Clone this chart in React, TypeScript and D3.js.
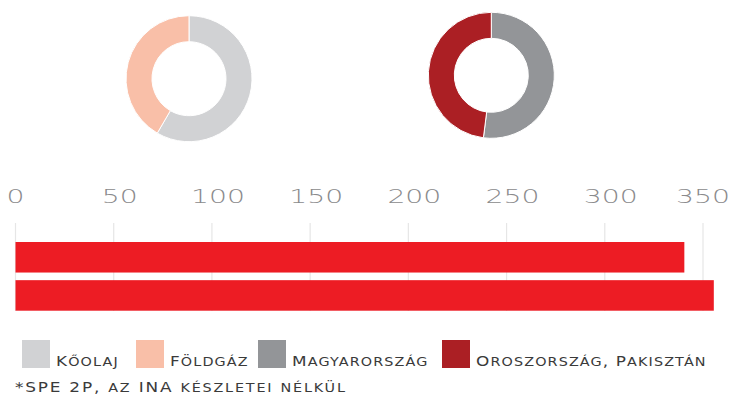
import React from "react";
import * as d3 from "d3";

// ---- data ----
const oilGasLabels = ["Kőolaj", "Földgáz"];
const oilGasValues = [58.4, 41.6];
const regionLabels = ["Magyarország", "Oroszország, Pakisztán"];
const regionValues = [52, 48];
const barCategories = ["A", "B"];
const barValues = [340.5, 355.5];
const tickValues = [0, 50, 100, 150, 200, 250, 300, 350];
const legendLabels = ["Kőolaj", "Földgáz", "Magyarország", "Oroszország, Pakisztán"];
const footnote = "*SPE 2P, az INA készletei nélkül";

// ---- styles / layout ----
const W = 748;
const H = 405;
const colorOil = "#d1d2d4";
const colorGas = "#f9bfa8";
const colorHu = "#939598";
const colorRu = "#ab1f24";
const barColor = "#ed1c24";
const legendColors = [colorOil, colorGas, colorHu, colorRu];
const legendSquareX = [22, 136, 258, 442];
const legendTextGap = 34;
const capSize = 13.5;
const smallSize = 11.5;
const textStretch = 1.25;

function SmallCaps({ text }: { text: string }) {
  const runs: { s: string; lower: boolean }[] = [];
  for (const ch of text) {
    const lower = ch !== ch.toUpperCase() && ch === ch.toLowerCase();
    const last = runs[runs.length - 1];
    if (last && last.lower === lower) last.s += ch;
    else runs.push({ s: ch, lower });
  }
  return (
    <>
      {runs.map((r, i) => (
        <tspan key={i} fontSize={r.lower ? smallSize : capSize} style={r.lower ? { textTransform: "uppercase" } : undefined}>
          {r.s}
        </tspan>
      ))}
    </>
  );
}

function Donut({ cx, cy, values, colors }: { cx: number; cy: number; values: number[]; colors: string[] }) {
  const pie = d3.pie<number>().sort(null).value((d) => d);
  const arc = d3.arc<d3.PieArcDatum<number>>().innerRadius(37).outerRadius(63);
  const arcs = pie(values);
  return (
    <g transform={`translate(${cx},${cy})`}>
      {arcs.map((a, i) => (
        <path key={i} d={arc(a) || ""} fill={colors[i]} stroke="#fff" strokeWidth={1} />
      ))}
    </g>
  );
}

export default function App() {
  const x = d3.scaleLinear().domain([0, 350]).range([15.5, 703]);
  const y = d3.scaleBand<string>().domain(barCategories).range([242, 310.7]).paddingInner(0.2).paddingOuter(0);

  return (
    <svg width={W} height={H} style={{ position: "absolute", left: 0, top: 0, background: "#fff" }}>
      <Donut cx={189} cy={78.7} values={oilGasValues} colors={[colorOil, colorGas]} />
      <Donut cx={491.3} cy={75.3} values={regionValues} colors={[colorHu, colorRu]} />

      {/* gridlines */}
      {tickValues.map((t) => (
        <line key={"g" + t} x1={x(t)} x2={x(t)} y1={223} y2={311} stroke="#e6e6e6" strokeWidth={1.2} />
      ))}
      {/* tick labels */}
      {tickValues.map((t, i) => (
        <text
          key={"t" + t}
          transform={`translate(${x(t) + (i === 0 || i === tickValues.length - 1 ? 0 : 6)},202.5) scale(1.45,1)`}
          textAnchor="middle"
          fontFamily="DejaVu Sans"
          fontWeight={200}
          fontSize={19.5}
          fill="#8a8a8c"
        >
          {t}
        </text>
      ))}
      {/* bars */}
      {barCategories.map((c, i) => (
        <rect key={c} x={x(0)} y={y(c)!} width={x(barValues[i]) - x(0)} height={y.bandwidth()} fill={barColor} />
      ))}

      {/* legend */}
      {legendLabels.map((l, i) => (
        <g key={l}>
          <rect x={legendSquareX[i]} y={340} width={28} height={28} fill={legendColors[i]} />
          <text
            transform={`translate(${legendSquareX[i] + legendTextGap},366) scale(${textStretch},1)`}
            fontFamily="DejaVu Sans"
            fontSize={capSize}
            letterSpacing={0.9}
            fill="#3a3a3a"
          >
            <SmallCaps text={l} />
          </text>
        </g>
      ))}
      <text
        transform={`translate(15,391.5) scale(${textStretch},1)`}
        fontFamily="DejaVu Sans"
        fontSize={capSize}
        letterSpacing={1.45}
        fill="#3a3a3a"
      >
        <SmallCaps text={footnote} />
      </text>
    </svg>
  );
}
